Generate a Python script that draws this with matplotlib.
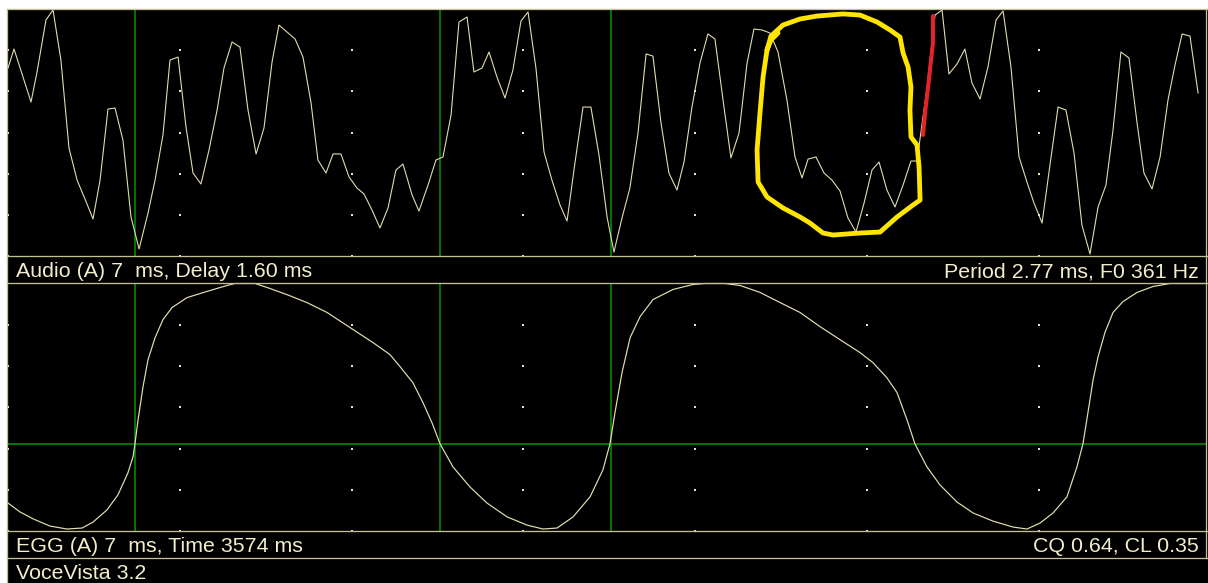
import matplotlib
matplotlib.use('Agg')
import matplotlib.pyplot as plt
from matplotlib.lines import Line2D
from matplotlib.patches import Rectangle

# ---------------- data ----------------
window_ms = 7.0
period_start_ms = 0.74      # first EGG contact crossing
period_ms = 2.77
f0_hz = 361
delay_ms = 1.60
time_ms = 3574
cq = 0.64
cl = 0.35

audio_t = [0.000, 0.035, 0.134, 0.169, 0.221, 0.262, 0.308, 0.355, 0.402, 0.448,
           0.495, 0.536, 0.582, 0.623, 0.669, 0.716, 0.763, 0.815, 0.856, 0.902,
           0.943, 0.990, 1.036, 1.077, 1.123, 1.170, 1.217, 1.257, 1.304, 1.350,
           1.397, 1.444, 1.490, 1.537, 1.577, 1.624, 1.671, 1.717, 1.764, 1.804,
           1.851, 1.892, 1.938, 1.985, 2.031, 2.072, 2.119, 2.165, 2.212, 2.258,
           2.299, 2.352, 2.392, 2.445, 2.491, 2.532, 2.579, 2.625, 2.672, 2.712,
           2.759, 2.800, 2.846, 2.893, 2.939, 2.986, 3.027, 3.073, 3.120, 3.166,
           3.213, 3.254, 3.300, 3.347, 3.393, 3.440, 3.487, 3.527, 3.574, 3.620,
           3.667, 3.714, 3.754, 3.801, 3.847, 3.894, 3.935, 3.981, 4.028, 4.074,
           4.115, 4.162, 4.208, 4.255, 4.302, 4.342, 4.389, 4.435, 4.482, 4.534,
           4.581, 4.622, 4.657, 4.703, 4.750, 4.796, 4.843, 4.889, 4.936, 4.983,
           5.029, 5.070, 5.116, 5.163, 5.210, 5.256, 5.291, 5.349, 5.396, 5.437,
           5.477, 5.524, 5.570, 5.611, 5.658, 5.704, 5.751, 5.792, 5.838, 5.885,
           5.931, 5.972, 6.019, 6.065, 6.112, 6.158, 6.205, 6.251, 6.298, 6.345,
           6.391, 6.432, 6.478, 6.525, 6.572, 6.612, 6.659, 6.706, 6.752, 6.793,
           6.834, 6.880, 6.927]
audio_a = [0.522, 0.676, 0.247, 0.490, 0.911, 0.992, 0.587, -0.126, -0.385, -0.538,
           -0.700, -0.385, 0.190, 0.198, -0.061, -0.684, -0.943, -0.652, -0.385, -0.020,
           0.587, 0.611, 0.045, -0.328, -0.417, -0.142, 0.182, 0.522, 0.733, 0.692,
           0.182, -0.174, 0.036, 0.571, 0.870, 0.814, 0.757, 0.611, 0.239, -0.223,
           -0.328, -0.174, -0.174, -0.360, -0.449, -0.498, -0.628, -0.773, -0.611, -0.304,
           -0.255, -0.506, -0.636, -0.425, -0.223, -0.198, 0.142, 0.895, 0.935, 0.490,
           0.522, 0.652, 0.449, 0.279, 0.506, 0.903, 0.976, 0.522, -0.158, -0.385,
           -0.587, -0.717, -0.247, 0.206, 0.206, -0.182, -0.684, -0.968, -0.692, -0.449,
           -0.004, 0.636, 0.619, 0.077, -0.328, -0.466, -0.239, 0.206, 0.563, 0.798,
           0.757, 0.263, -0.206, -0.004, 0.563, 0.838, 0.830, 0.806, 0.652, 0.263,
           -0.198, -0.368, -0.215, -0.198, -0.328, -0.385, -0.474, -0.692, -0.806, -0.571,
           -0.304, -0.239, -0.466, -0.603, -0.425, -0.231, -0.231, 0.360, 0.951, 0.992,
           0.474, 0.555, 0.676, 0.401, 0.271, 0.530, 0.911, 0.984, 0.530, -0.198,
           -0.401, -0.571, -0.733, -0.263, 0.206, 0.182, -0.166, -0.749, -0.984, -0.603,
           -0.425, 0.020, 0.652, 0.603, 0.077, -0.328, -0.457, -0.198, 0.263, 0.547,
           0.798, 0.781, 0.320]

egg_t = [0.000, 0.070, 0.146, 0.244, 0.343, 0.431, 0.495, 0.576, 0.640, 0.698,
         0.728, 0.739, 0.757, 0.786, 0.815, 0.856, 0.902, 0.955, 1.042, 1.158,
         1.275, 1.321, 1.438, 1.508, 1.624, 1.740, 1.857, 1.991, 2.125, 2.223,
         2.282, 2.357, 2.416, 2.468, 2.515, 2.590, 2.689, 2.788, 2.905, 3.021,
         3.114, 3.196, 3.289, 3.388, 3.463, 3.504, 3.533, 3.574, 3.621, 3.679,
         3.754, 3.871, 3.987, 4.057, 4.173, 4.261, 4.377, 4.494, 4.610, 4.726,
         4.843, 4.959, 5.035, 5.116, 5.175, 5.233, 5.279, 5.349, 5.425, 5.524,
         5.617, 5.733, 5.850, 5.931, 6.007, 6.083, 6.164, 6.222, 6.257, 6.286,
         6.316, 6.345, 6.385, 6.432, 6.490, 6.572, 6.665, 6.764, 6.980]
egg_e = [0.113, 0.077, 0.049, 0.020, 0.008, 0.012, 0.036, 0.085, 0.146, 0.235,
         0.300, 0.352, 0.449, 0.583, 0.692, 0.781, 0.854, 0.903, 0.943, 0.968,
         0.992, 1.000, 1.000, 0.984, 0.955, 0.923, 0.883, 0.822, 0.761, 0.713,
         0.664, 0.599, 0.518, 0.437, 0.352, 0.259, 0.178, 0.113, 0.057, 0.024,
         0.008, 0.012, 0.057, 0.138, 0.247, 0.352, 0.478, 0.640, 0.781, 0.866,
         0.935, 0.976, 0.996, 1.000, 1.000, 0.992, 0.964, 0.923, 0.883, 0.826,
         0.773, 0.721, 0.680, 0.619, 0.559, 0.449, 0.352, 0.259, 0.186, 0.117,
         0.073, 0.040, 0.016, 0.008, 0.032, 0.073, 0.138, 0.259, 0.352, 0.478,
         0.611, 0.704, 0.802, 0.883, 0.927, 0.964, 0.988, 1.000, 1.000]

# hand-drawn annotations over the audio trace (time ms, amplitude)
loop_t = [4.418, 4.441, 4.511, 4.610, 4.709, 4.860, 4.959, 5.058, 5.134, 5.192,
          5.210, 5.239, 5.256, 5.250, 5.256, 5.291, 5.303, 5.309, 5.268, 5.175,
          5.076, 4.959, 4.802, 4.744, 4.668, 4.610, 4.511, 4.418, 4.366, 4.360,
          4.377, 4.395, 4.418, 4.441, 4.482]
loop_a = [0.668, 0.781, 0.870, 0.919, 0.943, 0.960, 0.951, 0.895, 0.830, 0.773,
          0.644, 0.530, 0.368, 0.182, -0.036, -0.101, -0.279, -0.547, -0.587, -0.684,
          -0.806, -0.814, -0.830, -0.814, -0.733, -0.684, -0.611, -0.522, -0.401, -0.142,
          0.158, 0.449, 0.668, 0.749, 0.806]
mark_t = [5.384, 5.384, 5.355, 5.338, 5.326]
mark_a = [0.943, 0.725, 0.360, 0.158, -0.020]

# ---------------- styling ----------------
W, H = 1208, 583
TRACE = '#e2ddb0'
FRAME = '#c4c096'
TEXT = '#f2eecb'
GREEN = '#009000'
DOT = '#e8e4c2'
FONT = 'Liberation Sans'
PX = 0.72  # 1 pixel in points at 100 dpi

fig = plt.figure(figsize=(W / 100, H / 100), dpi=100, facecolor='white')


def fx(x):
    return x / W


def fy(y):
    return 1 - y / H


fig.add_artist(Rectangle((fx(7), 0), 1 - fx(7), fy(9), transform=fig.transFigure,
                         facecolor='black', edgecolor='none', zorder=0))

x_left, x_right = 8, 1206
px_per_ms = 171.8
xmax = (x_right - x_left) / px_per_ms
ax_w = (x_right - x_left) / W
ax_a = fig.add_axes([fx(x_left), fy(256), ax_w, 247 / H])
ax_e = fig.add_axes([fx(x_left), fy(531), ax_w, 247.5 / H])

t0 = period_start_ms
marks = [t0, t0 + cq * period_ms, t0 + period_ms]

for ax, ylo, yhi, rows in [(ax_a, -1, 1, [-1 + k / 3 for k in range(6)]),
                           (ax_e, 0, 1, [k / 6 for k in range(6)])]:
    ax.set_facecolor('black')
    ax.set_xlim(0, xmax)
    ax.set_ylim(ylo, yhi)
    ax.set_xticks([])
    ax.set_yticks([])
    for s in ax.spines.values():
        s.set_visible(False)
    xs, ys = [], []
    for c in range(int(window_ms)):
        for r in rows:
            xs.append(c)
            ys.append(r)
    ax.plot(xs, ys, 's', ms=1.7, mew=0, color=DOT, clip_on=False, zorder=2)
    for m in marks:
        ax.axvline(m, color=GREEN, lw=1.6 * PX, zorder=1)

ax_e.axhline(cl, color=GREEN, lw=1.6 * PX, zorder=1)

ax_a.plot(audio_t, audio_a, color=TRACE, lw=1.1 * PX, zorder=3)
ax_e.plot(egg_t, egg_e, color=TRACE, lw=1.2 * PX, zorder=3, clip_on=False)

ax_a.plot(loop_t, loop_a, color='#ffe500', lw=4.8 * PX, solid_capstyle='round',
          solid_joinstyle='round', zorder=5, clip_on=False)
ax_a.plot(mark_t, mark_a, color='#e52228', lw=4.0 * PX, solid_capstyle='round',
          zorder=5, clip_on=False)

# frame lines
for y in [9, 256, 283, 531, 558]:
    fig.add_artist(Line2D([fx(7), fx(1206.5)], [fy(y), fy(y)], transform=fig.transFigure,
                          color=FRAME, lw=1.3 * PX, zorder=10))
fig.add_artist(Line2D([fx(7.5), fx(7.5)], [fy(9), 0], transform=fig.transFigure,
                      color=FRAME, lw=1.3 * PX, zorder=10))
fig.add_artist(Line2D([fx(1206), fx(1206)], [fy(9), fy(558)], transform=fig.transFigure,
                      color=FRAME, lw=1.3 * PX, zorder=10))

fs = 15.4
kw = dict(color=TEXT, fontsize=fs, family=FONT, va='baseline')
fig.text(fx(16), fy(277), f'Audio (A) {window_ms:.0f}  ms, Delay {delay_ms:.2f} ms', ha='left', **kw)
fig.text(fx(1199), fy(277), f'Period {period_ms:.2f} ms, F0 {f0_hz} Hz', ha='right', **kw)
fig.text(fx(16), fy(552), f'EGG (A) {window_ms:.0f}  ms, Time {time_ms} ms', ha='left', **kw)
fig.text(fx(1199), fy(552), f'CQ {cq:.2f}, CL {cl:.2f}', ha='right', **kw)
fig.text(fx(16), fy(579), 'VoceVista 3.2', ha='left', **kw)

fig.savefig('out.png', dpi=100, facecolor=fig.get_facecolor())
